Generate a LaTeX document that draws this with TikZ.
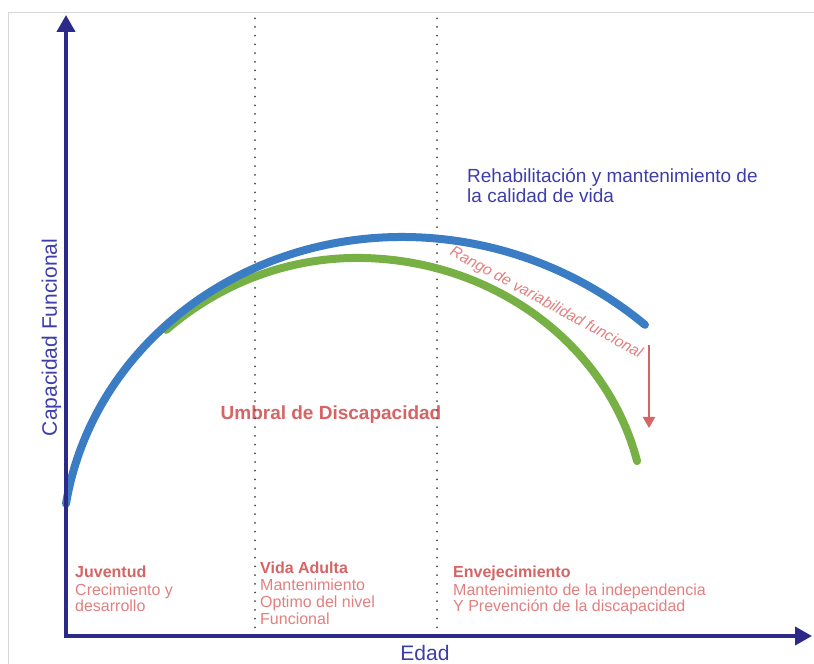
\documentclass[tikz,border=0pt]{standalone}
\usepackage{fontspec}
\setmainfont{Liberation Sans}
\usetikzlibrary{arrows.meta}
\definecolor{ejecolor}{RGB}{44,42,136}
\definecolor{azultexto}{RGB}{62,62,170}
\definecolor{azulcurva}{RGB}{59,125,196}
\definecolor{verdecurva}{RGB}{119,176,68}
\definecolor{rosa}{RGB}{214,100,100}
\definecolor{rosaclaro}{RGB}{226,128,128}
\definecolor{marco}{RGB}{216,216,216}
\begin{document}
\begin{tikzpicture}[x=1pt, y=1pt,
    eje/.style={line width=4pt, draw=ejecolor,
      {Triangle[length=17pt,width=18pt]}-{Triangle[length=17pt,width=18pt]}},
    guia/.style={draw=gray!55!black, line width=2pt, line cap=round,
      dash pattern=on 0pt off 8.7pt},
    curva/.style={line width=8pt, line cap=round},
    flecha/.style={draw=rosa, line width=2pt, -{Triangle[length=11pt,width=12pt]}},
    titulo/.style={anchor=base west, align=left, inner sep=0pt, text=azultexto,
      font=\fontsize{19}{20}\selectfont},
    etapa/.style={anchor=base west, align=left, inner sep=0pt, text=rosaclaro,
      font=\fontsize{16}{17}\selectfont},
    ejetexto/.style={anchor=base, inner sep=0pt, text=azultexto,
      font=\fontsize{21}{24}\selectfont}]
  \path[fill=white, use as bounding box] (0,0) rectangle (814,664);
  \draw[marco, line width=1pt] (8,0) -- (8,651) -- (814,651);
  % ejes y guias
  \coordinate (o) at (66,28);
  \coordinate (ytop) at (66,649);
  \coordinate (xend) at (812,28);
  \coordinate (g1b) at (255,28);
  \coordinate (g1t) at (255,648);
  \coordinate (g2b) at (437,28);
  \coordinate (g2t) at (437,648);
  % textos (base = ultima linea)
  \node[titulo] (rehab) at (467,461) {Rehabilitación y mantenimiento de\\la calidad de vida};
  \node[anchor=base, inner sep=0pt, text=rosa, font=\fontsize{19}{22}\selectfont\bfseries]
    (umbral) at (331,244) {Umbral de Discapacidad};
  \node[rotate=-28.5, inner sep=0pt, text=rosaclaro, font=\fontsize{15.5}{18}\selectfont\itshape]
    (rango) at (546,361) {Rango de variabilidad funcional};
  \node[etapa] (juv) at (75,52) {\textcolor{rosa}{\textbf{Juventud}}\\Crecimiento y\\desarrollo};
  \node[etapa] (adulta) at (260,39) {\textcolor{rosa}{\textbf{Vida Adulta}}\\Mantenimiento\\Optimo del nivel\\Funcional};
  \node[etapa] (vejez) at (453,52) {\textcolor{rosa}{\textbf{Envejecimiento}}\\Mantenimiento de la independencia\\Y Prevención de la discapacidad};
  \node[ejetexto, rotate=90] (capfun) at (57,326.5) {Capacidad Funcional};
  \node[ejetexto] (edad) at (425,3) {Edad};
  \draw[guia] (g1b) -- (g1t);
  \draw[guia] (g2b) -- (g2t);
  % curvas
  \coordinate (vs) at (166.2,334.1);
  \draw[curva, verdecurva] (vs) arc[start angle=129.5, end angle=90, x radius=300, y radius=315]
    arc[start angle=90, end angle=13.5, x radius=288, y radius=265];
  \coordinate (as) at (66,160.2);
  \draw[curva, azulcurva] (as) arc[start angle=171.2, end angle=90, x radius=340, y radius=315]
    arc[start angle=90, end angle=50.25, radius=380];
  \coordinate (fa) at (649,319);
  \coordinate (fb) at (649,236);
  \draw[flecha] (fa) -- (fb);
  \draw[eje] (ytop) -- (o) -- (xend);
\end{tikzpicture}
\end{document}
